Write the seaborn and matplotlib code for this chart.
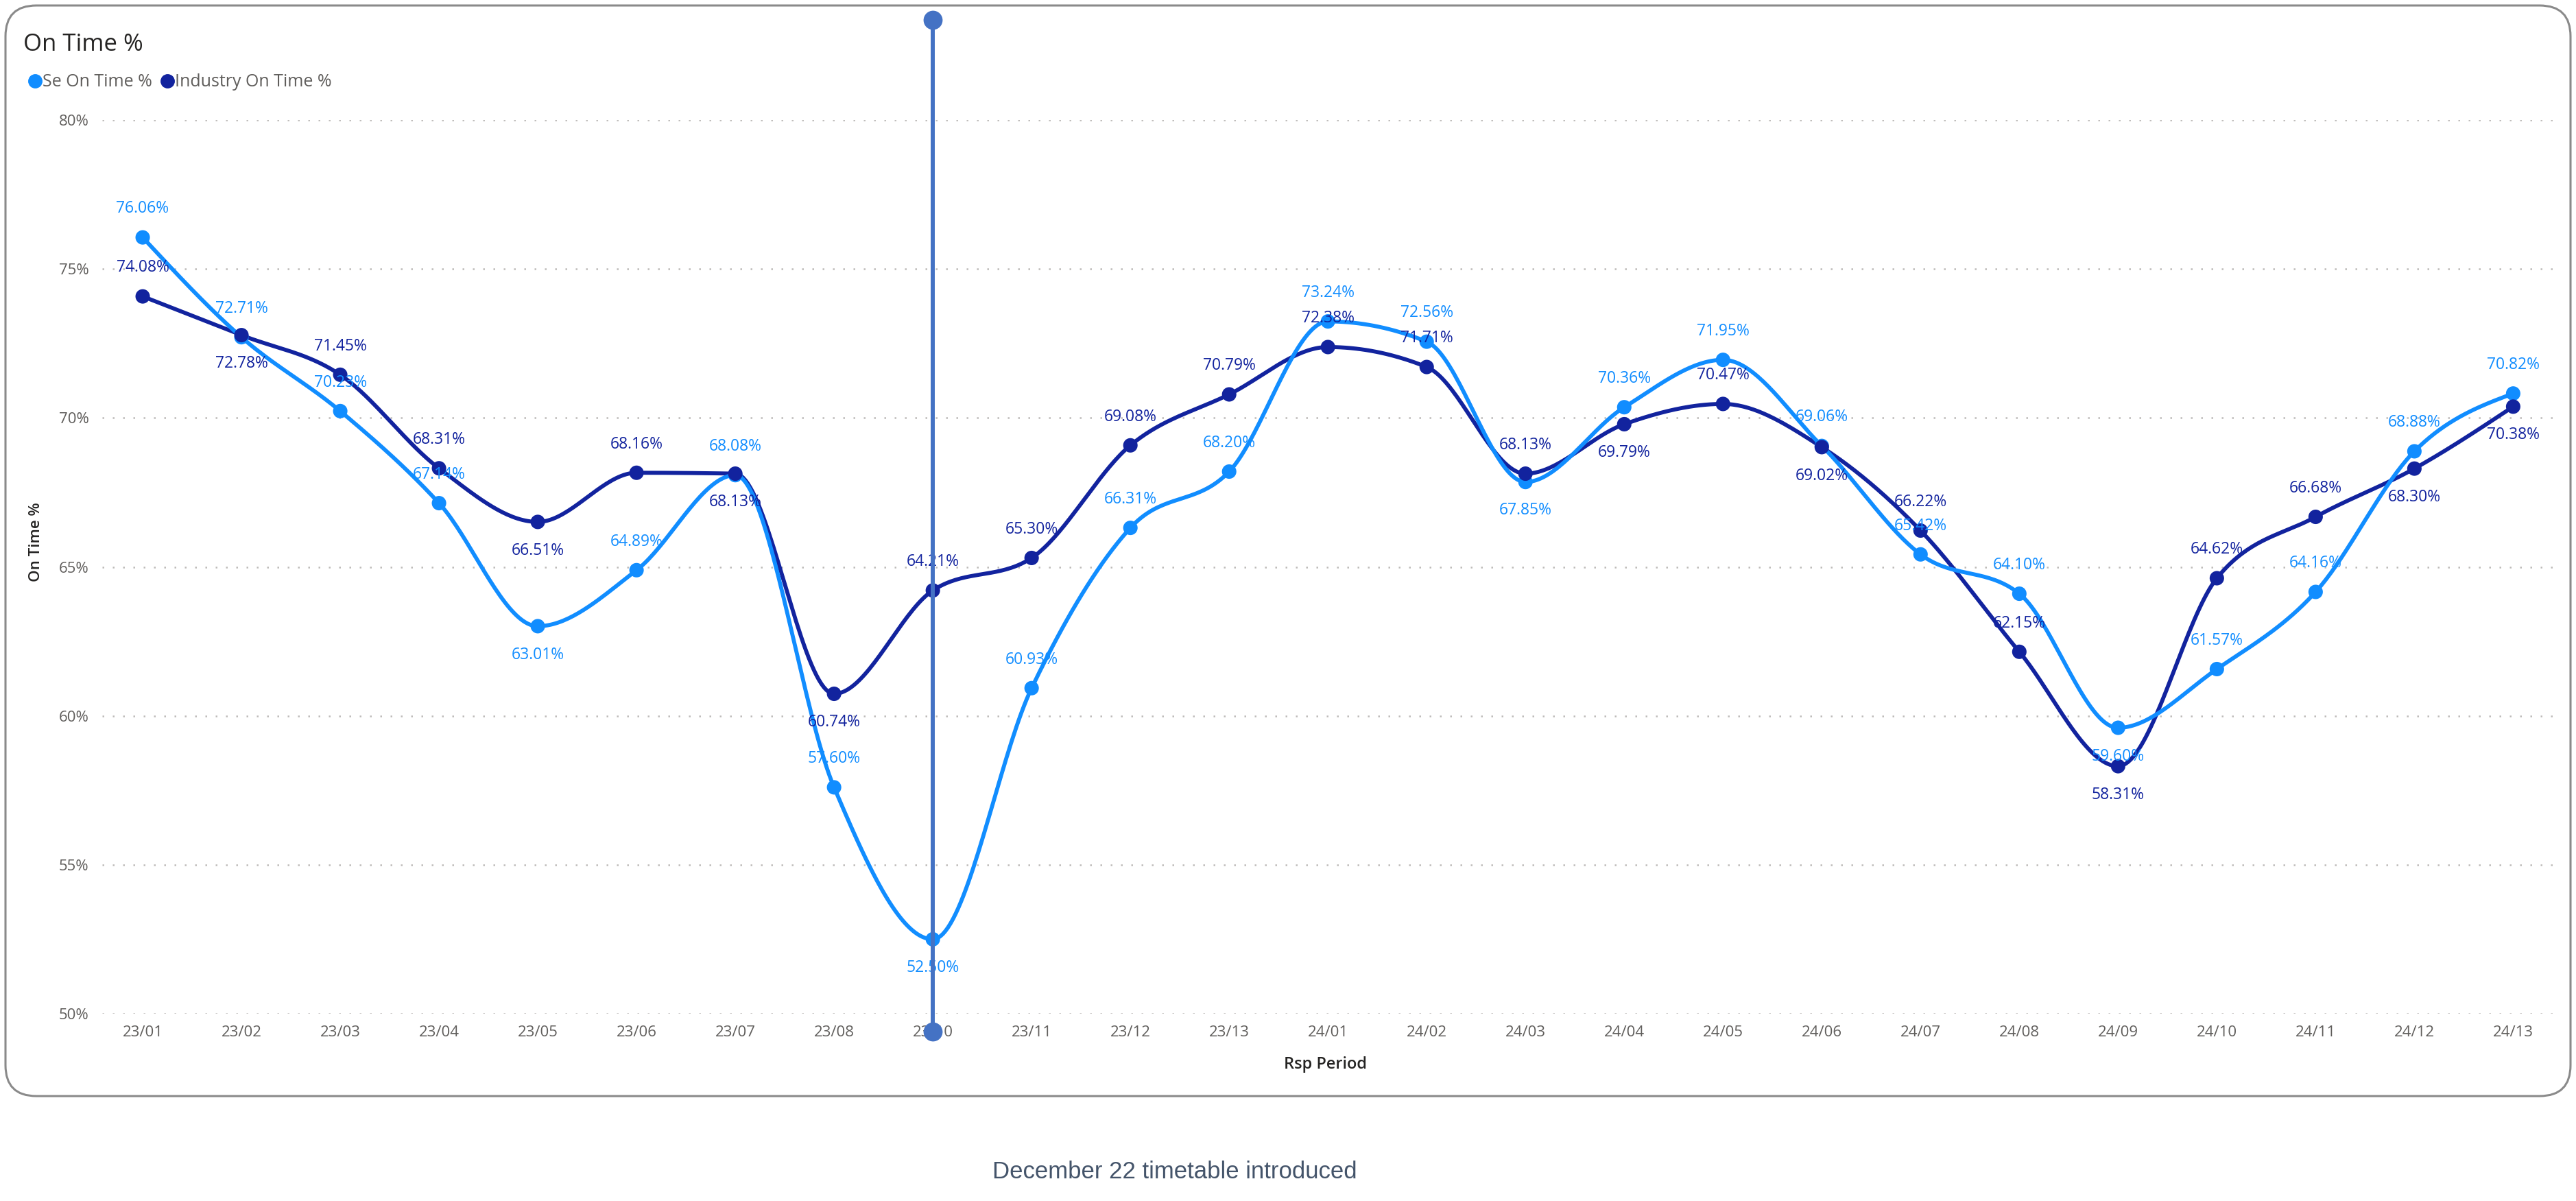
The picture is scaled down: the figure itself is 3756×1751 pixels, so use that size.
import numpy as np
import pandas as pd
import seaborn as sns
import matplotlib.pyplot as plt
from matplotlib.patches import FancyBboxPatch
from matplotlib.lines import Line2D
import matplotlib.transforms as mtransforms

# chart data
periods = ['23/01', '23/02', '23/03', '23/04', '23/05', '23/06', '23/07', '23/08', '23/10',
           '23/11', '23/12', '23/13', '24/01', '24/02', '24/03', '24/04', '24/05', '24/06',
           '24/07', '24/08', '24/09', '24/10', '24/11', '24/12', '24/13']
se_on_time = [76.06, 72.71, 70.23, 67.14, 63.01, 64.89, 68.08, 57.60, 52.50, 60.93, 66.31, 68.20,
              73.24, 72.56, 67.85, 70.36, 71.95, 69.06, 65.42, 64.10, 59.60, 61.57, 64.16, 68.88, 70.82]
industry_on_time = [74.08, 72.78, 71.45, 68.31, 66.51, 68.16, 68.13, 60.74, 64.21, 65.30, 69.08, 70.79,
                    72.38, 71.71, 68.13, 69.79, 70.47, 69.02, 66.22, 62.15, 58.31, 64.62, 66.68, 68.30, 70.38]
# data label side: a = above, b = below
se_label_side = ['a', 'a', 'a', 'a', 'b', 'a', 'a', 'a', 'b', 'a', 'a', 'a',
                 'a', 'a', 'b', 'a', 'a', 'a', 'a', 'a', 'b', 'a', 'a', 'a', 'a']
ind_label_side = ['a', 'b', 'a', 'a', 'b', 'a', 'b', 'b', 'a', 'a', 'a', 'a',
                  'a', 'a', 'a', 'b', 'a', 'b', 'a', 'a', 'b', 'a', 'a', 'b', 'b']
marker_period = '23/10'
note_text = 'December 22 timetable introduced'

SE_COL = '#118DFF'
IND_COL = '#12239E'
W, H = 3756, 1751


def monotone_curve(y, n=40):
    # steffen monotone cubic, same idea as the smooth line in the dashboard
    y = np.asarray(y, float)
    s = np.diff(y)
    m = np.zeros_like(y)
    for i in range(1, len(y) - 1):
        p = (s[i - 1] + s[i]) / 2
        m[i] = (np.sign(s[i - 1]) + np.sign(s[i])) * min(abs(s[i - 1]), abs(s[i]), 0.5 * abs(p))
    m[0] = (3 * s[0] - m[1]) / 2
    m[-1] = (3 * s[-1] - m[-2]) / 2
    xs, ys = [], []
    t = np.linspace(0, 1, n)
    for i in range(len(y) - 1):
        h00 = 2 * t**3 - 3 * t**2 + 1
        h10 = t**3 - 2 * t**2 + t
        h01 = -2 * t**3 + 3 * t**2
        h11 = t**3 - t**2
        xs.append(i + t)
        ys.append(h00 * y[i] + h10 * m[i] + h01 * y[i + 1] + h11 * m[i + 1])
    return np.concatenate(xs), np.concatenate(ys)


sns.set_theme(style='white')
plt.rcParams['font.family'] = ['Open Sans', 'DejaVu Sans']

fig = plt.figure(figsize=(W / 100, H / 100), dpi=100)
ax = fig.add_axes([149 / W, 1 - 1478 / H, (3722 - 149) / W, (1478 - 175) / H])

df = pd.DataFrame({
    'idx': list(range(len(periods))) * 2,
    'value': se_on_time + industry_on_time,
    'series': ['Se On Time %'] * len(periods) + ['Industry On Time %'] * len(periods),
})

for vals, col in [(industry_on_time, IND_COL), (se_on_time, SE_COL)]:
    cx, cy = monotone_curve(vals)
    ax.plot(cx, cy, color=col, lw=4.2, solid_capstyle='round', zorder=3)

sns.scatterplot(data=df, x='idx', y='value', hue='series',
                palette={'Se On Time %': SE_COL, 'Industry On Time %': IND_COL},
                s=230, edgecolor='none', legend=False, ax=ax, zorder=4)

for vals, sides, col in [(se_on_time, se_label_side, SE_COL),
                         (industry_on_time, ind_label_side, IND_COL)]:
    for i, (v, sd) in enumerate(zip(vals, sides)):
        off = 30 if sd == 'a' else -30
        ax.annotate(f'{v:.2f}%', (i, v), xytext=(0, off), textcoords='offset points',
                    ha='center', va='center', fontsize=16.5, color=col, zorder=5)

ax.set_xlim(-0.41, 24.4)
ax.set_ylim(50, 80)
ax.set_yticks(range(50, 81, 5))
ax.set_yticklabels([f'{v}%' for v in range(50, 81, 5)])
ax.set_xticks(range(len(periods)))
ax.set_xticklabels(periods)
ax.tick_params(axis='y', labelsize=16, colors='#605E5C', pad=14, length=0)
ax.tick_params(axis='x', labelsize=16, colors='#605E5C', pad=12, length=0)
ax.set_xlabel('')
ax.set_ylabel('')
ax.grid(axis='y', color='#BDBBB9', linestyle=(0, (1, 5)), lw=1.8)
ax.grid(axis='x', visible=False)
for sp in ax.spines.values():
    sp.set_visible(False)

# vertical marker line at the timetable change
xi = periods.index(marker_period)
trans = mtransforms.blended_transform_factory(ax.transData, ax.transAxes)
ax.plot([xi, xi], [-0.02, 1.112], transform=trans, color='#4472C4', lw=4.3,
        clip_on=False, zorder=6)
ax.plot([xi, xi], [-0.02, 1.112], transform=trans, color='#4472C4', ls='none',
        marker='o', ms=19, clip_on=False, zorder=6)

# titles
fig.text(34 / W, 1 - 65 / H, 'On Time %', fontsize=25, color='#252423', va='center')
fig.text(53 / W, 1 - 790 / H, 'On Time %', fontsize=16, color='#252423', rotation=90,
         va='center', ha='center', fontweight='semibold')
fig.text(1933 / W, 1 - 1552 / H, 'Rsp Period', fontsize=17, color='#252423',
         va='center', ha='center', fontweight='semibold')

handles = [Line2D([], [], ls='none', marker='o', ms=14, color=SE_COL),
           Line2D([], [], ls='none', marker='o', ms=14, color=IND_COL)]
fig.legend(handles, ['Se On Time %', 'Industry On Time %'], loc='center left',
           bbox_to_anchor=(28 / W, 1 - 120 / H), ncol=2, frameon=False, fontsize=18,
           handletextpad=0.05, columnspacing=0.5, handlelength=0.8, borderpad=0,
           labelcolor='#605E5C')

fig.text(1713 / W, 1 - 1708 / H, note_text, fontsize=25, color='#44546A',
         ha='center', va='center', family='Liberation Sans')

# rounded card border
card = FancyBboxPatch((8 / 100, (H - 1598) / 100), 3740 / 100, 1590 / 100,
                      boxstyle='round,pad=0,rounding_size=0.45',
                      transform=fig.dpi_scale_trans, facecolor='none',
                      edgecolor='#8A8A8A', lw=2.2, zorder=0)
fig.patches.append(card)

fig.savefig('out.png', dpi=100, facecolor='white')
